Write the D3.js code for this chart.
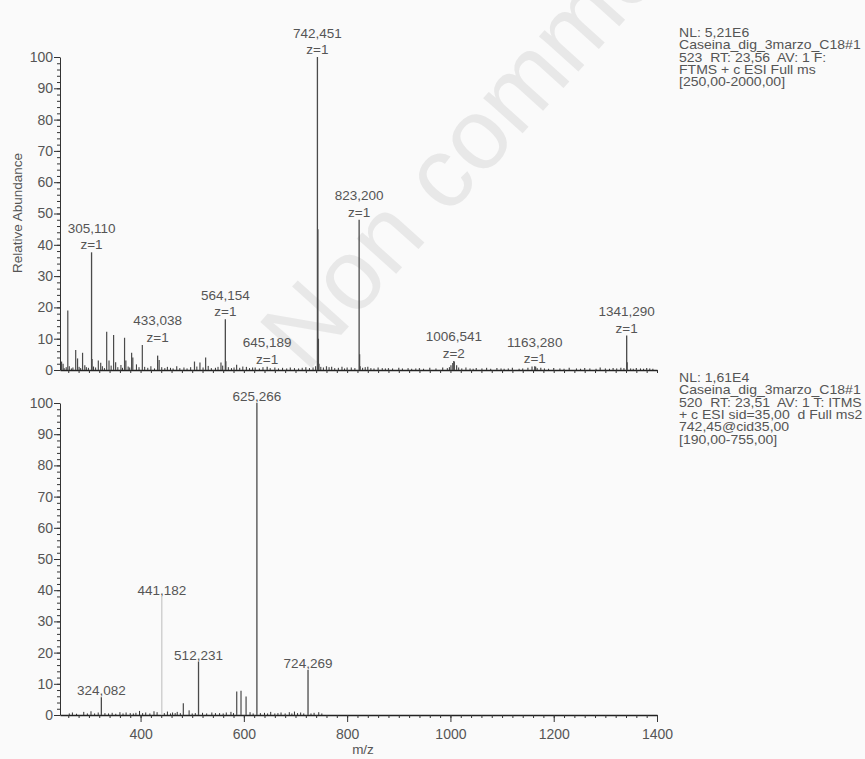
<!DOCTYPE html>
<html>
<head>
<meta charset="utf-8">
<script src="https://cdn.jsdelivr.net/npm/d3@7"></script>
<style>
  html, body { margin: 0; padding: 0; background: #fafafa; }
  svg { display: block; font-family: "Liberation Sans", Arial, sans-serif; }
  .hdr { white-space: pre; }
</style>
</head>
<body>
<svg id="chart" width="865" height="759"></svg>
<script>
// ---- Full MS scan: labelled centroids [m/z, relative abundance %, charge]
const ms1Labeled = [
  [305.110, 37.6, 1],
  [433.038, 4.6, 1],
  [564.154, 16.2, 1],
  [645.189, 1.0, 1],
  [742.451, 100, 1],
  [823.200, 48.0, 1],
  [1006.541, 2.9, 2],
  [1163.280, 1.2, 1],
  [1341.290, 11.0, 1]
];
// other centroids of the full scan [m/z, relative abundance %]
const ms1Peaks = [
  [247, 2.7], [250, 2.0], [259.1, 19.0], [274.4, 6.4], [278.0, 3.7], [287.7, 5.5],
  [292, 1.5], [306.1, 3.5], [318.2, 3.0], [322.8, 2.3], [334.4, 12.2], [338.9, 3.0],
  [347.8, 11.2], [351.7, 2.5], [369.0, 10.3], [371.5, 3.0], [382.7, 5.5], [385.0, 4.0],
  [403.4, 8.0], [436.0, 3.2], [452, 1.0], [470, 1.2], [504.4, 2.7], [515.0, 2.4],
  [526.0, 4.0], [555.7, 2.4], [565.2, 2.8], [586.0, 1.7], [605.0, 1.0], [622, 0.8],
  [660, 0.8], [690, 0.8], [720, 0.9], [743.45, 45.0], [744.45, 10.0], [745.45, 2.0],
  [760, 1.2], [770, 1.0], [790, 1.0], [800, 0.8], [824.2, 5.0], [825.2, 1.2],
  [840, 1.0], [860, 0.8], [880, 0.6], [900, 0.7], [940, 0.6], [960, 0.7], [985, 0.8],
  [1001, 1.5], [1004.5, 2.2], [1007.5, 2.6], [1012, 1.5], [1030, 0.8], [1050, 0.6],
  [1070, 0.7], [1090, 0.6], [1120, 0.7], [1150, 0.7], [1158, 1.1], [1165, 1.0],
  [1175, 0.7], [1200, 0.6], [1230, 0.7], [1260, 0.6], [1290, 0.8], [1315, 0.6],
  [1330, 0.7], [1342.3, 2.5], [1360, 0.6], [1380, 0.6]
];
// baseline chatter of the full scan
const ms1Noise = [
  [252, 0.6], [256, 0.9], [262, 1.2], [266, 0.5], [269, 0.8], [281, 1.0], [284, 0.6],
  [295, 0.9], [299, 0.7], [309, 1.1], [313, 0.8], [326, 1.2], [330, 0.6], [343, 1.4],
  [356, 0.9], [362, 1.6], [365, 0.7], [376, 1.1], [379, 0.8], [392, 1.8], [397, 0.9],
  [408, 1.0], [414, 0.7], [420, 1.2], [427, 0.5], [441, 0.9], [447, 0.6], [458, 0.7],
  [463, 0.5], [476, 0.6], [484, 0.8], [490, 0.5], [497, 0.9], [509, 1.1], [521, 0.8],
  [531, 1.3], [537, 0.6], [545, 0.7], [550, 1.0], [559, 1.4], [570, 0.9], [576, 0.6],
  [581, 0.8], [592, 0.7], [598, 1.1], [611, 0.6], [617, 0.8], [630, 0.5], [637, 0.9],
  [651, 0.6], [667, 0.5], [675, 0.7], [683, 0.5], [698, 0.6], [706, 0.5], [713, 0.7],
  [727, 0.6], [734, 0.8], [739, 1.2], [749, 1.0], [754, 0.8], [765, 0.9], [776, 0.6],
  [783, 0.7], [795, 0.5], [808, 0.8], [815, 0.6], [830, 0.7], [835, 0.9], [846, 0.6],
  [852, 0.5], [868, 0.6], [874, 0.5], [888, 0.5], [907, 0.5], [918, 0.6], [925, 0.4],
  [933, 0.5], [948, 0.4], [972, 0.5], [994, 0.6], [998, 0.9], [1016, 0.8], [1022, 0.5],
  [1038, 0.5], [1044, 0.4], [1061, 0.5], [1078, 0.4], [1098, 0.5], [1104, 0.4],
  [1112, 0.5], [1133, 0.4], [1140, 0.5], [1168, 0.6], [1182, 0.5], [1190, 0.4],
  [1212, 0.5], [1220, 0.4], [1244, 0.5], [1252, 0.4], [1270, 0.5], [1282, 0.4],
  [1300, 0.5], [1308, 0.4], [1322, 0.5], [1336, 0.6], [1349, 0.5], [1354, 0.4],
  [1368, 0.5], [1374, 0.4], [1386, 0.5], [1392, 0.4]
];

// ---- MS2 of 742,45: labelled fragments [m/z, relative abundance %]
const ms2Labeled = [
  [324.082, 5.7],
  [441.182, 37.9],
  [512.231, 17.1],
  [625.266, 100],
  [724.269, 14.4]
];
const ms2Peaks = [
  [482.8, 3.8], [586.2, 7.5], [594.5, 7.8], [604.3, 5.9]
];
const ms2Noise = [
  [262, 0.5], [268, 0.8], [276, 0.4], [290, 1.0], [297, 0.5], [304, 1.2], [311, 0.5],
  [318, 0.8], [331, 0.6], [338, 0.5], [345, 0.7], [352, 0.4], [360, 0.9], [366, 0.5],
  [372, 0.8], [380, 0.6], [386, 0.5], [391, 0.7], [398, 1.3], [404, 0.6], [410, 0.8],
  [418, 0.5], [426, 1.2], [432, 0.9], [446, 0.6], [452, 1.1], [458, 0.5], [462, 0.8],
  [467, 0.6], [471, 1.0], [477, 0.6], [494, 1.5], [500, 0.5], [506, 0.6], [520, 0.7],
  [528, 0.5], [538, 0.8], [545, 0.6], [553, 0.6], [560, 0.5], [566, 0.8], [575, 1.0],
  [580, 0.6], [612, 0.9], [618, 0.5], [632, 0.6], [640, 0.7], [646, 0.5], [652, 1.0],
  [660, 0.5], [666, 0.6], [672, 0.8], [680, 0.5], [688, 0.9], [693, 0.5], [698, 1.1],
  [704, 0.6], [710, 0.8], [716, 0.5], [730, 0.5], [736, 0.7], [745, 0.9], [751, 0.5]
];

// ---- axes and text
const xDomain = [244, 1400];
const xTickValues = [400, 600, 800, 1000, 1200, 1400];
const yTickValues = [0, 10, 20, 30, 40, 50, 60, 70, 80, 90, 100];
const xTitle = "m/z";
const yTitle = "Relative Abundance";
const ms1Header = [
  "NL: 5,21E6",
  "Caseina_dig_3marzo_C18#1",
  "523  RT: 23,56  AV: 1 F:",
  "FTMS + c ESI Full ms",
  "[250,00-2000,00]"
];
const ms2Header = [
  "NL: 1,61E4",
  "Caseina_dig_3marzo_C18#1",
  "520  RT: 23,51  AV: 1 T: ITMS",
  "+ c ESI sid=35,00  d Full ms2",
  "742,45@cid35,00",
  "[190,00-755,00]"
];
const watermark = "Non commercial";

// ---- drawing
const svg = d3.select("#chart");
const W = 865, H = 759;
const ink = "#4a4a4a", textInk = "#555";
const fmtComma = v => v.toFixed(3).replace(".", ",");

svg.append("rect").attr("width", W).attr("height", H).attr("fill", "#fafafa");

svg.append("text")
  .attr("transform", "translate(306,374) rotate(-48)")
  .attr("font-size", 100)
  .attr("fill", "#e8e8e8")
  .text(watermark);

const x = d3.scaleLinear().domain(xDomain).range([60, 657]);
const panels = [
  { top: 57, bottom: 370, labeled: ms1Labeled, peaks: ms1Peaks, noise: ms1Noise, twoLine: true, header: ms1Header, headerY: 37, xLabels: false },
  { top: 403, bottom: 715, labeled: ms2Labeled, peaks: ms2Peaks, noise: ms2Noise, twoLine: false, header: ms2Header, headerY: 382, xLabels: true }
];

const minorX = d3.range(260, 1401, 20);
const minorY = d3.range(0, 101, 2);

panels.forEach(p => {
  const y = d3.scaleLinear().domain([0, 100]).range([p.bottom, p.top]);
  const g = svg.append("g");

  // y axis: minor ticks every 2 %, labelled every 10 %
  g.append("g").attr("transform", "translate(60,0)")
    .call(d3.axisLeft(y).tickValues(minorY).tickSize(3).tickSizeOuter(0).tickFormat(""))
    .call(a => a.select(".domain").attr("stroke", "#333"))
    .call(a => a.selectAll(".tick line").attr("stroke", "#333"));
  g.append("g").attr("transform", "translate(60,0)")
    .call(d3.axisLeft(y).tickValues(yTickValues).tickSize(6).tickSizeOuter(0).tickPadding(1))
    .call(a => a.select(".domain").remove())
    .call(a => a.selectAll(".tick line").attr("stroke", "#333"))
    .call(a => a.selectAll(".tick text").attr("fill", textInk).attr("font-size", 14)
      .attr("font-family", "Liberation Sans, Arial, sans-serif"));

  // x axis
  g.append("g").attr("transform", `translate(0,${p.bottom})`)
    .call(d3.axisBottom(x).tickValues(minorX).tickSize(3).tickSizeOuter(0).tickFormat(""))
    .call(a => a.select(".domain").attr("stroke", "#222").attr("stroke-width", 1.5))
    .call(a => a.selectAll(".tick line").attr("stroke", "#333"));
  if (p.xLabels) {
    g.append("g").attr("transform", `translate(0,${p.bottom})`)
      .call(d3.axisBottom(x).tickValues(xTickValues).tickSize(7).tickSizeOuter(0)
        .tickPadding(7).tickFormat(d3.format("d")))
      .call(a => a.select(".domain").remove())
      .call(a => a.selectAll(".tick line").attr("stroke", "#333"))
      .call(a => a.selectAll(".tick text").attr("fill", textInk).attr("font-size", 14)
        .attr("font-family", "Liberation Sans, Arial, sans-serif"));
  }

  // sticks
  const stick = (sel, data, color, width) => sel.selectAll(null).data(data).join("line")
    .attr("x1", d => x(d[0])).attr("x2", d => x(d[0]))
    .attr("y1", y(0)).attr("y2", d => y(d[1]))
    .attr("stroke", color).attr("stroke-width", width);
  stick(g.append("g"), p.noise, "#333", 1);
  stick(g.append("g"), p.peaks, ink, 1.2);
  stick(g.append("g"), p.labeled, ink, 1.3);
  // the 441,182 fragment is drawn in a pale tone
  g.selectAll("line").filter(d => d && d[0] === 441.182)
    .attr("stroke", "#bdbdbd").attr("stroke-width", 1);

  const all = p.noise.concat(p.peaks, p.labeled.map(d => [d[0], d[1]]));

  // peak annotations rest above the tallest stick beneath them
  p.labeled.forEach(d => {
    const cx = x(d[0]);
    const t = g.append("text").attr("x", cx).attr("text-anchor", "middle")
      .attr("font-size", 13.5).attr("fill", textInk).text(fmtComma(d[0]));
    const w = t.node().getComputedTextLength();
    const lo = x.invert(cx - w / 2), hi = x.invert(cx + w / 2);
    const peakMax = d3.max(all.filter(q => q[0] >= lo && q[0] <= hi), q => q[1]);
    const base = y(peakMax);
    if (p.twoLine) {
      t.attr("y", base - 19.5);
      g.append("text").attr("x", cx).attr("y", base - 3).attr("text-anchor", "middle")
        .attr("font-size", 13.5).attr("fill", textInk).text("z=" + d[2]);
    } else {
      t.attr("y", base - 2);
    }
  });

  // scan header, set in a wide face
  svg.append("g").selectAll("text").data(p.header).join("text")
    .attr("class", "hdr")
    .attr("transform", (d, i) => `translate(679,${p.headerY + i * 12.3}) scale(1.17,1)`)
    .attr("font-size", 12).attr("fill", textInk).text(d => d);
});

// axis titles
svg.append("text")
  .attr("transform", "translate(22,213) rotate(-90)")
  .attr("text-anchor", "middle").attr("font-size", 13.5).attr("fill", textInk)
  .text(yTitle);
svg.append("text")
  .attr("x", 363).attr("y", 754).attr("text-anchor", "middle")
  .attr("font-size", 13.5).attr("fill", textInk).text(xTitle);
</script>
</body>
</html>
